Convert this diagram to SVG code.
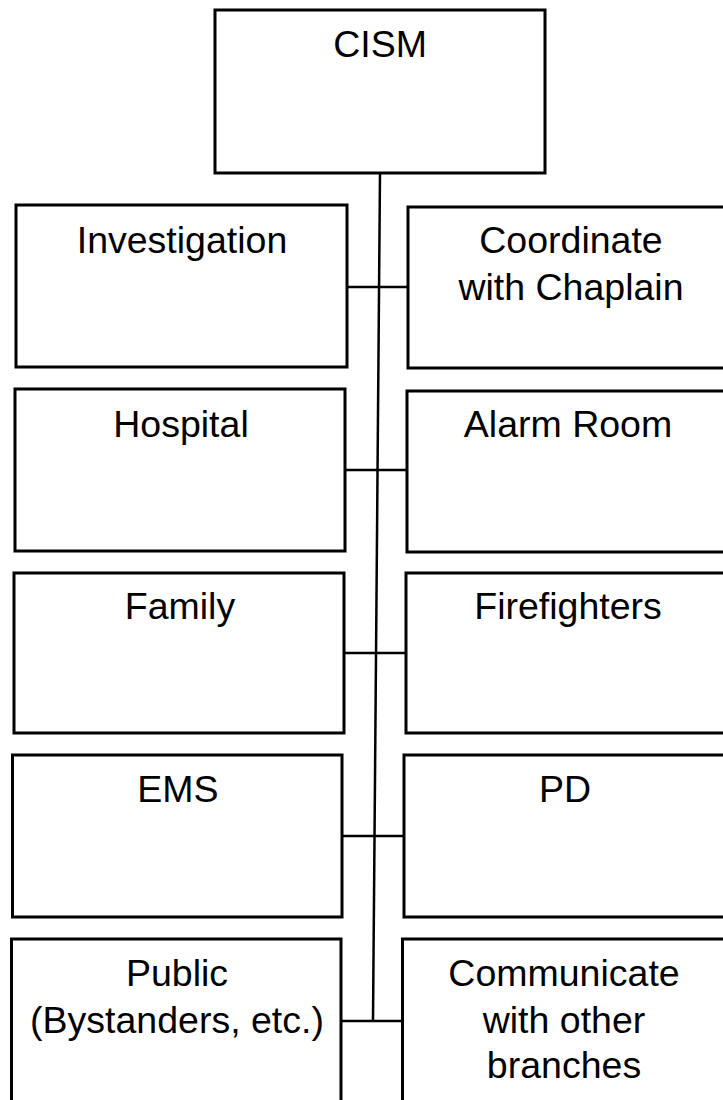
<svg xmlns="http://www.w3.org/2000/svg" width="723" height="1100" viewBox="0 0 723 1100">
<style>
.box{fill:#fff;stroke:#000;stroke-width:3}
.lbl{font-family:"Liberation Sans",Arial,sans-serif;font-size:37.5px;fill:#000;text-anchor:middle}
.ln{stroke:#000;stroke-width:2.5;fill:none}
</style>
<rect width="723" height="1100" fill="#fff"/>
<g id="connectors">
<line class="ln" x1="380" y1="173" x2="373" y2="1021"/>
<line class="ln" x1="346" y1="287" x2="408" y2="287"/>
<line class="ln" x1="345" y1="470" x2="407" y2="470"/>
<line class="ln" x1="344" y1="653" x2="406" y2="653"/>
<line class="ln" x1="342" y1="836" x2="404" y2="836"/>
<line class="ln" x1="341" y1="1021" x2="403" y2="1021"/>
</g>
<g id="cism"><rect class="box" x="215" y="10" width="330" height="163"/><text class="lbl" x="380" y="57">CISM</text></g>
<g id="investigation"><rect class="box" x="16" y="205" width="331" height="162"/><text class="lbl" x="182" y="253">Investigation</text></g>
<g id="chaplain"><rect class="box" x="408" y="207" width="330" height="161"/><text class="lbl" x="571" y="253">Coordinate</text><text class="lbl" x="571" y="300">with Chaplain</text></g>
<g id="hospital"><rect class="box" x="15" y="389" width="330" height="162"/><text class="lbl" x="181" y="437">Hospital</text></g>
<g id="alarm"><rect class="box" x="407" y="391" width="330" height="161"/><text class="lbl" x="568" y="437">Alarm Room</text></g>
<g id="family"><rect class="box" x="14" y="573" width="330" height="160"/><text class="lbl" x="180" y="619">Family</text></g>
<g id="firefighters"><rect class="box" x="406" y="573" width="330" height="160"/><text class="lbl" x="568" y="619">Firefighters</text></g>
<g id="ems"><rect class="box" x="12.5" y="755" width="329.5" height="162"/><text class="lbl" x="178" y="802">EMS</text></g>
<g id="pd"><rect class="box" x="404" y="755" width="330" height="162"/><text class="lbl" x="565" y="802">PD</text></g>
<g id="public"><rect class="box" x="11.5" y="939" width="329.5" height="200"/><text class="lbl" x="177" y="986">Public</text><text class="lbl" x="177" y="1033">(Bystanders, etc.)</text></g>
<g id="communicate"><rect class="box" x="402.5" y="939" width="330" height="200"/><text class="lbl" x="564" y="986">Communicate</text><text class="lbl" x="564" y="1033">with other</text><text class="lbl" x="564" y="1078">branches</text></g>
</svg>
